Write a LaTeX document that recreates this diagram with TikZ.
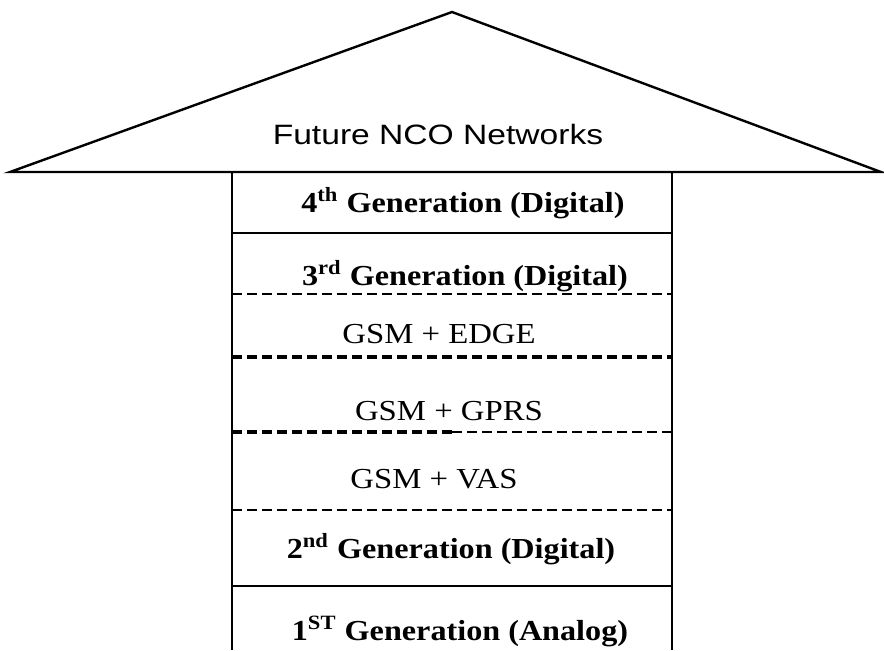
\documentclass[tikz,border=0pt]{standalone}
\usepackage{fontspec}
\setmainfont{Liberation Serif}
\newfontfamily\headfont{Liberation Sans}
\usetikzlibrary{positioning}

\newcommand{\widetext}[2]{\scalebox{#1}[1]{#2}}

\tikzset{
  outline/.style={line width=1.2pt, line join=miter},
  thindash/.style={line width=0.8pt, dash pattern=on 5pt off 2.5pt},
  thickdash/.style={line width=1.6pt, dash pattern=on 5pt off 2.5pt},
  headlabel/.style={anchor=base, inner sep=0pt, font=\headfont\fontsize{14}{16}\selectfont},
  genlabel/.style={anchor=base, inner sep=0pt, font=\fontsize{14.5}{16}\selectfont\bfseries},
  gsmlabel/.style={anchor=base, inner sep=0pt, font=\fontsize{14.5}{16}\selectfont}
}

\begin{document}
\begin{tikzpicture}[x=0.5pt, y=-0.5pt]
  \useasboundingbox (0,0) rectangle (884,650);
  % arrow head
  \coordinate (apex) at (452,12);
  \coordinate (tipL) at (10,172);
  \coordinate (tipR) at (881,172);
  \draw[outline] (tipL) -- (apex) -- (tipR) -- cycle;
  % shaft
  \coordinate (wallL) at (232,172);
  \coordinate (wallR) at (672,172);
  \draw[outline] (wallL) -- (232,650);
  \draw[outline] (wallR) -- (672,650);
  % row separators
  \draw[outline] (232,233) -- (672,233);
  \draw[thindash] (232,294) -- (672,294);
  \draw[thickdash] (232,357) -- (672,357);
  \draw[thickdash] (232,432) -- (452,432);
  \draw[thindash] (452,432) -- (672,432);
  \draw[thindash] (232,510) -- (672,510);
  \draw[outline] (232,586) -- (672,586);
  % labels
  \node[headlabel] (future) at (438,144) {\widetext{1.2}{Future NCO Networks}};
  \node[genlabel] (gen4) at (463,212) {\widetext{1.11}{4\textsuperscript{th} Generation (Digital)}};
  \node[genlabel] (gen3) at (465,285) {\widetext{1.11}{3\textsuperscript{rd} Generation (Digital)}};
  \node[gsmlabel] (edge) at (439,343) {\widetext{1.13}{GSM + EDGE}};
  \node[gsmlabel] (gprs) at (449,420) {\widetext{1.13}{GSM + GPRS}};
  \node[gsmlabel] (vas) at (434,488) {\widetext{1.13}{GSM + VAS}};
  \node[genlabel] (gen2) at (451,558) {\widetext{1.11}{2\textsuperscript{nd} Generation (Digital)}};
  \node[genlabel] (gen1) at (460,640) {\widetext{1.11}{1\textsuperscript{ST} Generation (Analog)}};
\end{tikzpicture}
\end{document}
